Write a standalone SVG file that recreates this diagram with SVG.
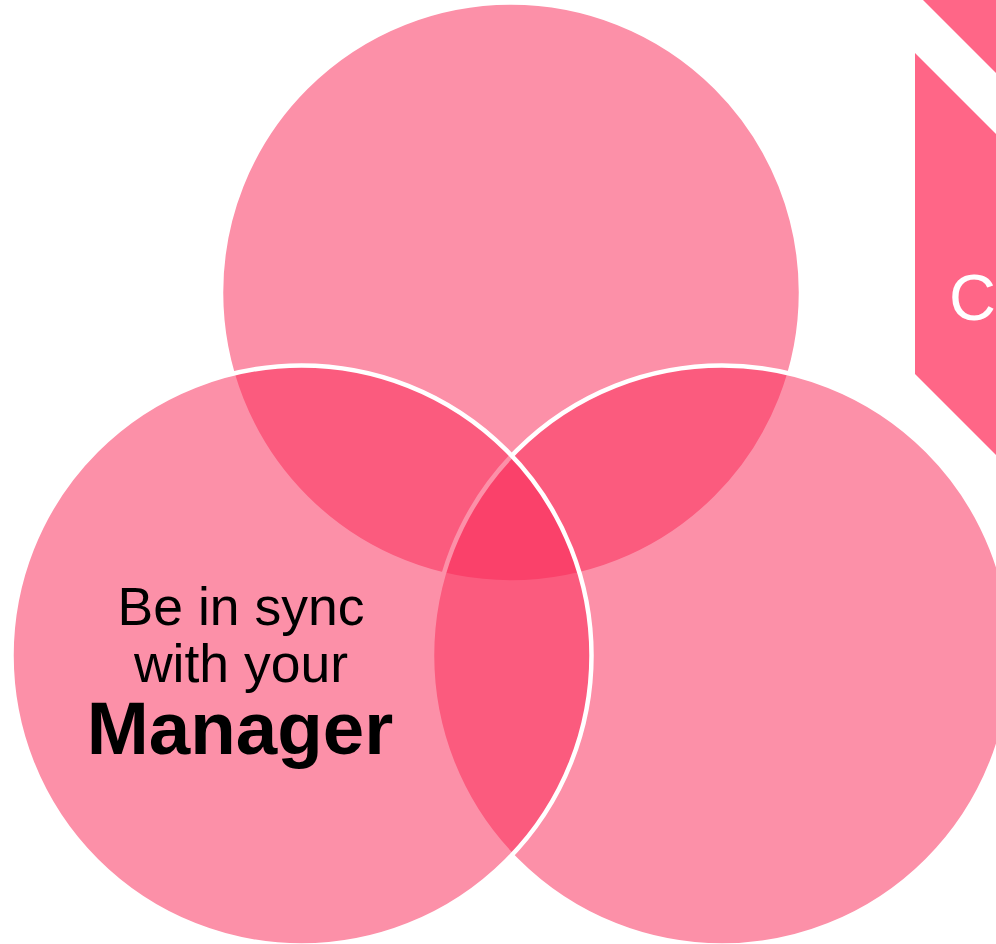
<svg xmlns="http://www.w3.org/2000/svg" width="996" height="944" viewBox="0 0 996 944">
  <style>
    .circ { fill: #FA2B58; fill-opacity: 0.52; stroke: #FFFFFF; stroke-width: 4.5; }
    .hex { fill: #FF6687; stroke: none; }
    .lbl { font-family: "Liberation Sans", Arial, sans-serif; fill: #000000; text-anchor: middle; }
    .hexlbl { font-family: "Liberation Sans", Arial, sans-serif; fill: #FFFFFF; }
  </style>
  <rect x="0" y="0" width="996" height="944" fill="#FFFFFF"/>
  <g id="hex-top">
    <polygon class="hex" points="923,0 996,73 996,0"/>
  </g>
  <g id="hex-c">
    <polygon class="hex" points="915,53 996,134 996,455 915,374"/>
    <text class="hexlbl" x="949" y="320" font-size="65">C</text>
  </g>
  <g id="connectors"></g>
  <g id="circle-top">
    <circle class="circ" cx="511" cy="292.5" r="290"/>
  </g>
  <g id="circle-right">
    <circle class="circ" cx="722" cy="655.5" r="290"/>
  </g>
  <g id="circle-left">
    <circle class="circ" cx="301.5" cy="655.5" r="290"/>
    <text class="lbl" x="241" y="625" font-size="53.5">Be in sync</text>
    <text class="lbl" x="241" y="682" font-size="53.5">with your</text>
    <text class="lbl" x="240" y="754" font-size="74.5" font-weight="bold">Manager</text>
  </g>
</svg>
